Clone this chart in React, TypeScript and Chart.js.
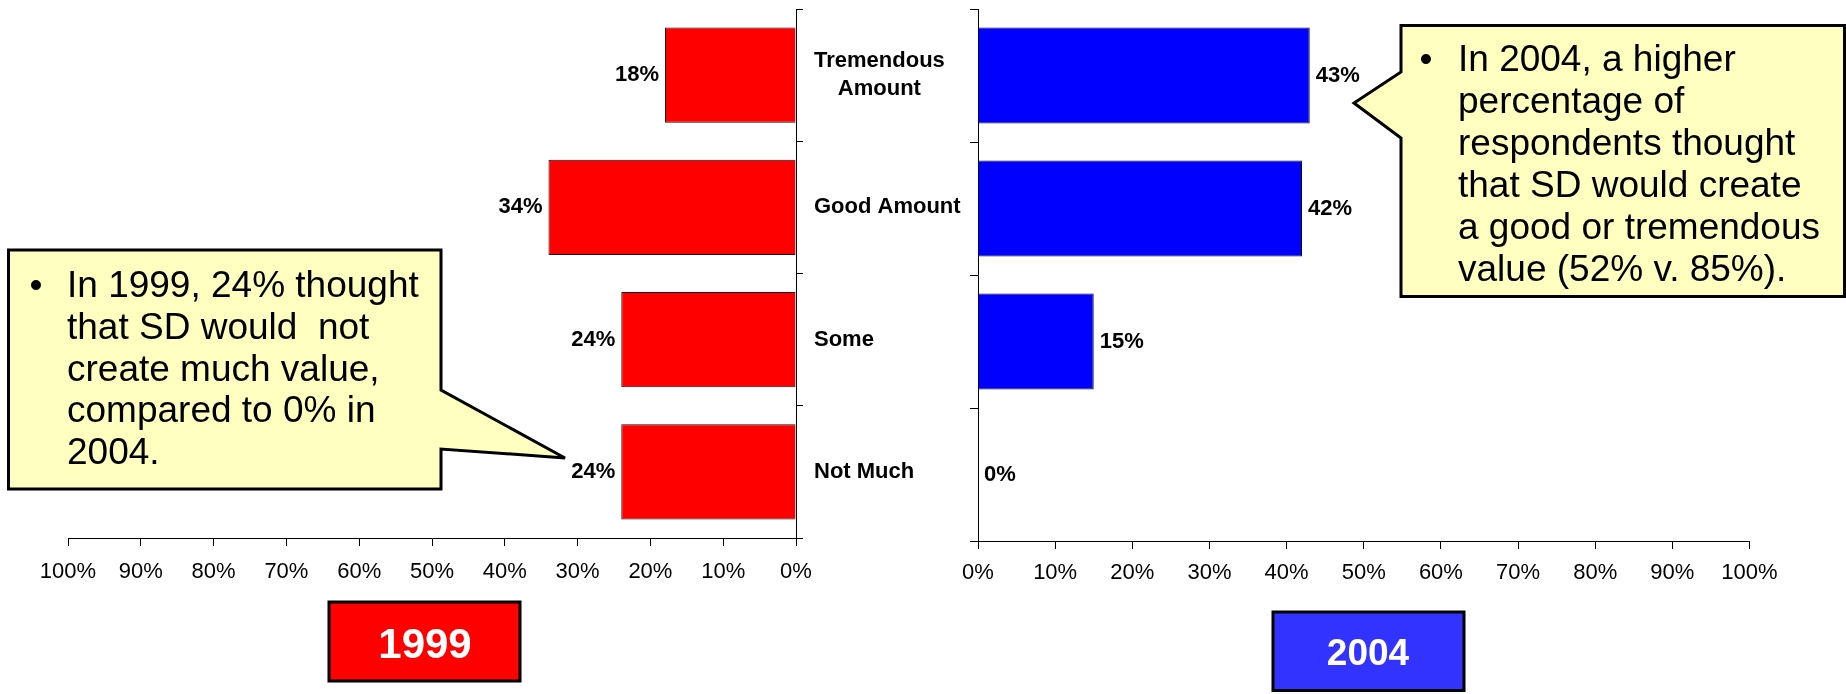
import React, { useEffect, useRef } from 'react';
import { Chart, registerables } from 'chart.js';

Chart.register(...registerables);

// ---- data ----
const categoryLines: string[][] = [['Tremendous', 'Amount'], ['Good Amount'], ['Some'], ['Not Much']];
const values1999: number[] = [18, 34, 24, 24];
const values2004: number[] = [43, 42, 15, 0];
const axisMin = 0;
const axisMax = 100;
const axisStep = 10;
const callout1999: string[] = ['In 1999, 24% thought', 'that SD would  not', 'create much value,', 'compared to 0% in', '2004.'];
const callout2004: string[] = ['In 2004, a higher', 'percentage of', 'respondents thought', 'that SD would create', 'a good or tremendous', 'value (52% v. 85%).'];
const yearLabels: string[] = ['1999', '2004'];

const FONT = '"Liberation Sans", Arial, Helvetica, sans-serif';

const valueLabelPlugin = {
  id: 'valueLabels',
  afterDatasetsDraw(chart: any) {
    const ctx = chart.ctx;
    const reversed = chart.options.scales.x.reverse;
    const meta = chart.getDatasetMeta(0);
    const data = chart.data.datasets[0].data;
    ctx.save();
    ctx.font = `bold 22px ${FONT}`;
    ctx.fillStyle = '#000';
    ctx.textBaseline = 'middle';
    meta.data.forEach((bar: any, i: number) => {
      const txt = `${data[i]}%`;
      if (reversed) {
        ctx.textAlign = 'right';
        ctx.fillText(txt, bar.x - 6, bar.y);
      } else {
        ctx.textAlign = 'left';
        ctx.fillText(txt, bar.x + 6, bar.y);
      }
    });
    ctx.restore();
  },
};

const categoryLabelPlugin = {
  id: 'catLabels',
  afterDraw(chart: any) {
    const { ctx, chartArea, scales } = chart;
    const yScale = scales.y;
    const labels: string[][] = chart.data.labels;
    ctx.save();
    ctx.font = `bold 22px ${FONT}`;
    ctx.fillStyle = '#000';
    ctx.textBaseline = 'middle';
    ctx.textAlign = 'center';
    labels.forEach((lines, i) => {
      const cy = yScale.getPixelForValue(i);
      const w = Math.max(...lines.map((l) => ctx.measureText(l).width));
      const cx = chartArea.right + 18 + w / 2;
      lines.forEach((l, j) => {
        ctx.fillText(l, cx, cy + (j - (lines.length - 1) / 2) * 28);
      });
    });
    ctx.restore();
  },
};

function makeConfig(values: number[], color: string, left: boolean) {
  return {
    type: 'bar' as const,
    data: {
      labels: categoryLines,
      datasets: [
        {
          data: values,
          backgroundColor: color,
          borderColor: '#111',
          borderWidth: 1,
          barPercentage: 0.72,
          categoryPercentage: 1,
        },
      ],
    },
    options: {
      indexAxis: 'y' as const,
      responsive: false,
      animation: false as const,
      events: [],
      layout: {
        padding: left
          ? { left: 68, right: 179, top: 9, bottom: 0 }
          : { left: 38, right: 96.5, top: 9, bottom: 0 },
      },
      plugins: {
        legend: { display: false },
        tooltip: { enabled: false },
        title: { display: false },
      },
      scales: {
        x: {
          type: 'linear' as const,
          reverse: left,
          min: axisMin,
          max: axisMax,
          position: 'bottom' as const,
          afterFit: (s: any) => {
            s.height = left ? 694 - 538 : 694 - 541;
          },
          ticks: {
            stepSize: axisStep,
            color: '#000',
            padding: left ? 13 : 11,
            maxRotation: 0,
            font: { family: FONT, size: 22 },
            callback: (v: any) => `${v}%`,
          },
          grid: { drawOnChartArea: false, tickLength: 8, color: '#000', lineWidth: 1 },
          border: { display: true, color: '#000', width: 1 },
        },
        y: {
          type: 'category' as const,
          position: left ? ('right' as const) : ('left' as const),
          afterFit: (s: any) => {
            s.width = 0;
          },
          ticks: { display: false },
          grid: { drawOnChartArea: false, tickLength: left ? 7 : 8, color: '#000', offset: true, lineWidth: 1 },
          border: { display: true, color: '#000', width: 1 },
        },
      },
    },
    plugins: left ? [valueLabelPlugin, categoryLabelPlugin] : [valueLabelPlugin],
  };
}

function BarPanel({ values, color, left, x, width }: { values: number[]; color: string; left: boolean; x: number; width: number }) {
  const ref = useRef<HTMLCanvasElement | null>(null);
  useEffect(() => {
    if (!ref.current) return;
    const chart = new Chart(ref.current, makeConfig(values, color, left) as any);
    return () => chart.destroy();
  }, [values, color, left]);
  return (
    <canvas
      ref={ref}
      width={width}
      height={694}
      style={{ position: 'absolute', left: x, top: 0, width, height: 694 }}
    />
  );
}

export default function App() {
  const textStyle: React.CSSProperties = { whiteSpace: 'pre' };
  return (
    <div style={{ position: 'absolute', left: 0, top: 0, width: 1846, height: 694, background: '#fff', overflow: 'hidden' }}>
      <BarPanel values={values1999} color="#FF0000" left={true} x={0} width={975} />
      <BarPanel values={values2004} color="#0000FF" left={false} x={940} width={906} />
      <svg width={1846} height={694} style={{ position: 'absolute', left: 0, top: 0, pointerEvents: 'none' }}>
        {/* 1999 callout */}
        <polygon
          points="8.5,250 441,250 441,390 565,458 441,449 441,489 8.5,489"
          fill="#FFFFC0"
          stroke="#000"
          strokeWidth={3}
        />
        <text x={36} y={297} fontFamily={FONT} fontSize={37} textAnchor="middle" fill="#000">•</text>
        {callout1999.map((line, i) => (
          <text key={i} x={67} y={297 + i * 41.8} fontFamily={FONT} fontSize={37} fill="#000" style={textStyle}>
            {line}
          </text>
        ))}
        {/* 2004 callout */}
        <polygon
          points="1401,25.5 1844.5,25.5 1844.5,296.5 1401,296.5 1401,138 1354,103 1401,72"
          fill="#FFFFC0"
          stroke="#000"
          strokeWidth={3}
        />
        <text x={1426} y={71} fontFamily={FONT} fontSize={37} textAnchor="middle" fill="#000">•</text>
        {callout2004.map((line, i) => (
          <text key={i} x={1458} y={71 + i * 42} fontFamily={FONT} fontSize={37} fill="#000" style={textStyle}>
            {line}
          </text>
        ))}
        {/* year boxes */}
        <rect x={329} y={602} width={191} height={79} fill="#FF0000" stroke="#000" strokeWidth={3} />
        <text x={425} y={658} fontFamily={FONT} fontSize={42} fontWeight="bold" textAnchor="middle" fill="#fff">
          {yearLabels[0]}
        </text>
        <rect x={1273} y={612} width={191} height={78.5} fill="#3333FF" stroke="#000" strokeWidth={3} />
        <text x={1368} y={665} fontFamily={FONT} fontSize={37} fontWeight="bold" textAnchor="middle" fill="#fff">
          {yearLabels[1]}
        </text>
      </svg>
    </div>
  );
}
